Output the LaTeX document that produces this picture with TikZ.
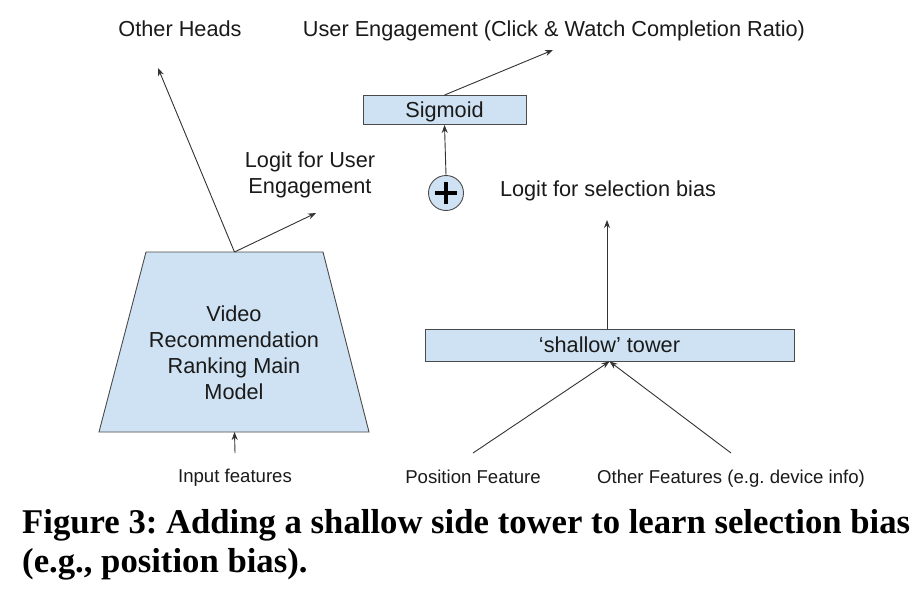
\documentclass[tikz,border=0pt]{standalone}
\usepackage{fontspec}
\setmainfont{Liberation Sans}
\newfontfamily\capfont{Liberation Serif}
\usetikzlibrary{arrows.meta,positioning}
\definecolor{ink}{HTML}{1A1A1A}
\definecolor{edge}{HTML}{333333}
\definecolor{rim}{HTML}{4A4A4A}
\definecolor{bluL}{HTML}{CFE2F3}
\tikzset{
  txt/.style   ={font=\fontsize{21.7}{25.7}\selectfont, text=ink, inner sep=0pt, align=center},
  small/.style ={font=\fontsize{18.6}{22}\selectfont, text=ink, inner sep=0pt},
  box/.style   ={draw=rim, fill=bluL, line width=.9pt, inner sep=0pt,
                 font=\fontsize{21.7}{25.7}\selectfont, text=ink},
  bar/.style   ={box, text height=15.6pt, text depth=0pt},
  flow/.style  ={-{Stealth[length=8pt,width=6pt]}, line width=.9pt, draw=edge},
  plusbar/.style={line width=3.6pt, draw=black},
  capt/.style  ={font=\capfont\bfseries\fontsize{34.7}{39}\selectfont, inner sep=0pt, anchor=base west},
}
\begin{document}
\frenchspacing
\begin{tikzpicture}[x=1pt,y=-1pt]
  \useasboundingbox[fill=white] (0,0) rectangle (924,600);
  % main model
  \coordinate (mtop) at (234.5,252);
  \coordinate (mbot) at (234.5,432);
  \draw[box] (146,252) -- (323,252) -- (369,432) -- (99,432) -- cycle;
  \node[txt, anchor=north] (mainlbl) at (234,306) {Video\\Recommendation\\Ranking Main\\Model};
  \node[small, anchor=base] (inp) at (235,482) {Input features};
  \coordinate (inpst) at (235,453);
  \node[txt, anchor=base] (heads) at (180,36) {Other Heads};
  \coordinate (headsend) at (158,68);
  \node[txt, anchor=north] (logue) at (310,152) {Logit for User\\Engagement};
  \coordinate (logueend) at (316,213);
  % output side
  \node[bar, minimum width=163pt, minimum height=29pt] (sig) at (444.5,110) {Sigmoid};
  \node[txt, anchor=base] (ueng) at (554,36) {User Engagement (Click \& Watch Completion Ratio)};
  \coordinate (uengend) at (553,50);
  \node[box, circle, minimum size=35pt] (plus) at (446,193) {};
  \draw[plusbar] ([xshift=-11pt]plus.center) -- ([xshift=11pt]plus.center);
  \draw[plusbar] ([yshift=-11pt]plus.center) -- ([yshift=11pt]plus.center);
  \node[txt, anchor=base] (logsb) at (608,196) {Logit for selection bias};
  % shallow tower
  \node[bar, minimum width=369pt, minimum height=32pt] (tower) at (609.5,345) {`shallow' tower};
  \coordinate (towerend) at (607,220);
  \node[small, anchor=base] (pos) at (473,483) {Position Feature};
  \node[small, anchor=base] (oth) at (731,483) {Other Features (e.g. device info)};
  \coordinate (posst) at (473,453);
  \coordinate (othst) at (731,453);
  % connectors
  \draw[flow] (mtop) -- (headsend);
  \draw[flow] (mtop) -- (logueend);
  \draw[flow] (inpst) -- (mbot);
  \draw[flow] (plus.north) -- (sig.south);
  \draw[flow] (sig.north) -- (uengend);
  \draw[flow] (tower.north -| towerend) -- (towerend);
  \draw[flow] (posst) -- (tower.south);
  \draw[flow] (othst) -- (tower.south);
  % caption
  \node[capt] (cap1) at (22,533) {Figure 3: Adding a shallow side tower to learn selection bias};
  \node[capt] (cap2) at (22,572) {(e.g., position bias).};
\end{tikzpicture}
\end{document}
